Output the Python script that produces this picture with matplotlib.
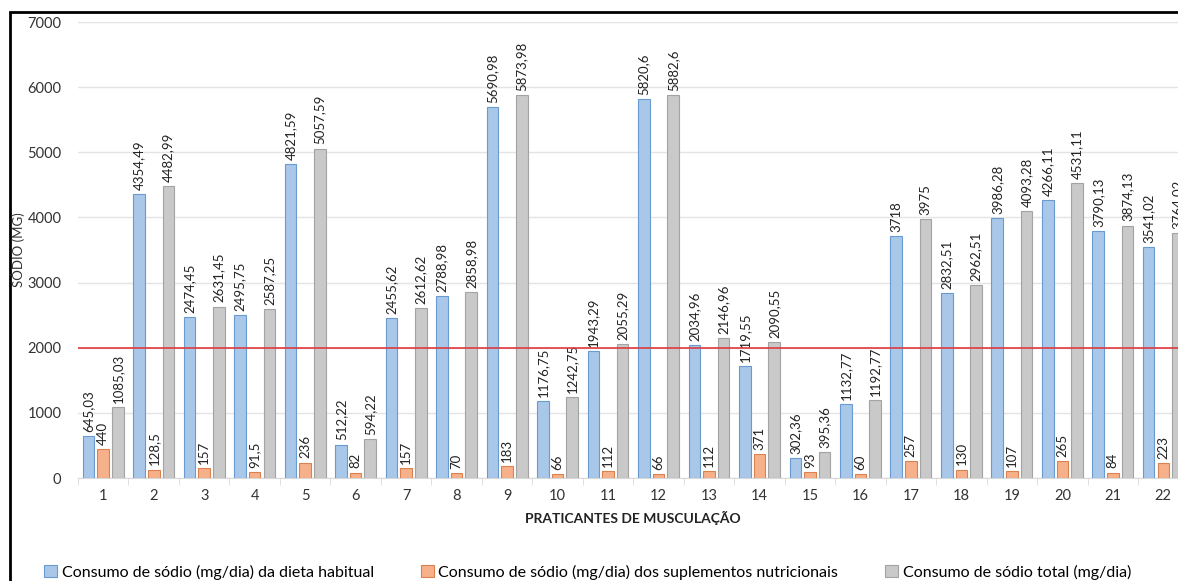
import matplotlib.pyplot as plt
from matplotlib.patches import Rectangle
import numpy as np

plt.rcParams['font.family'] = ['Lato', 'DejaVu Sans']

praticantes = list(range(1, 23))
dieta = [645.03, 4354.49, 2474.45, 2495.75, 4821.59, 512.22, 2455.62, 2788.98,
         5690.98, 1176.75, 1943.29, 5820.6, 2034.96, 1719.55, 302.36, 1132.77,
         3718, 2832.51, 3986.28, 4266.11, 3790.13, 3541.02]
suplementos = [440, 128.5, 157, 91.5, 236, 82, 157, 70, 183, 66, 112, 66, 112,
               371, 93, 60, 257, 130, 107, 265, 84, 223]
total = [1085.03, 4482.99, 2631.45, 2587.25, 5057.59, 594.22, 2612.62, 2858.98,
         5873.98, 1242.75, 2055.29, 5882.6, 2146.96, 2090.55, 395.36, 1192.77,
         3975, 2962.51, 4093.28, 4531.11, 3874.13, 3764.02]
limite = 2000

nomes = ['Consumo de sódio (mg/dia) da dieta habitual',
         'Consumo de sódio (mg/dia) dos suplementos nutricionais',
         'Consumo de sódio total (mg/dia)']

def fmt(v):
    return '{:g}'.format(v).replace('.', ',')

fig = plt.figure(figsize=(11.78, 5.81), dpi=100)
ax = fig.add_axes([78/1178, 103/581, 22*50.48/1178, 456/581])

x = np.array(praticantes)
w = 0.23
off = 0.29
b1 = ax.bar(x - off, dieta, w, color='#a9c7e9', edgecolor='#6a9bd0', linewidth=0.8, label=nomes[0], zorder=3)
b2 = ax.bar(x, suplementos, w, color='#f6b08a', edgecolor='#d98250', linewidth=0.8, label=nomes[1], zorder=3)
b3 = ax.bar(x + off, total, w, color='#c9c9c9', edgecolor='#a3a3a3', linewidth=0.8, label=nomes[2], zorder=3)

for b, vals in [(b1, dieta), (b2, suplementos), (b3, total)]:
    ax.bar_label(b, labels=[fmt(v) for v in vals], rotation=90, padding=3,
                 fontsize=9.5, color='#222222')

# linha de referencia 2000 mg
ax.axhline(limite, color='#e0393e', linewidth=1.2, zorder=4)

ax.set_xlim(0.5, 22.5)
ax.set_ylim(0, 7000)
ax.set_yticks(range(0, 7001, 1000))
ax.yaxis.grid(True, color='#e4e4e4', linewidth=1)
ax.set_axisbelow(True)
ax.set_xticks(x)
ax.set_xticks(np.arange(0.5, 23, 1), minor=True)
ax.tick_params(axis='x', which='major', length=0, pad=8, labelsize=10.5, labelcolor='#333333')
ax.tick_params(axis='x', which='minor', length=5, color='#d9d9d9')
ax.tick_params(axis='y', length=0, pad=12, labelsize=10.5, labelcolor='#333333')
for s in ['top', 'right', 'left']:
    ax.spines[s].set_visible(False)
ax.spines['bottom'].set_color('#d9d9d9')

ax.set_xlabel('PRATICANTES DE MUSCULAÇÃO', fontsize=10, fontweight='bold', color='#222222', labelpad=6)
fig.text(18/1178, 1 - 250/581, 'SÓDIO (MG)', rotation=90, ha='center', va='center', fontsize=9.5, color='#333333')

fig.legend(handles=[b1, b2, b3], loc='center left', bbox_to_anchor=(44/1178, 1 - 572/581),
           ncol=3, frameon=False, fontsize=11.5, handlelength=0.8, handleheight=0.8,
           handletextpad=0.3, columnspacing=2.95, borderaxespad=0, borderpad=0)

# moldura (cortada a direita e embaixo, como no original)
fig.patches.append(Rectangle((10/1178, -0.05), 1.2, 1 - 12/581 + 0.05, transform=fig.transFigure,
                             fill=False, edgecolor='black', linewidth=2))

fig.savefig('out.png', dpi=100)
